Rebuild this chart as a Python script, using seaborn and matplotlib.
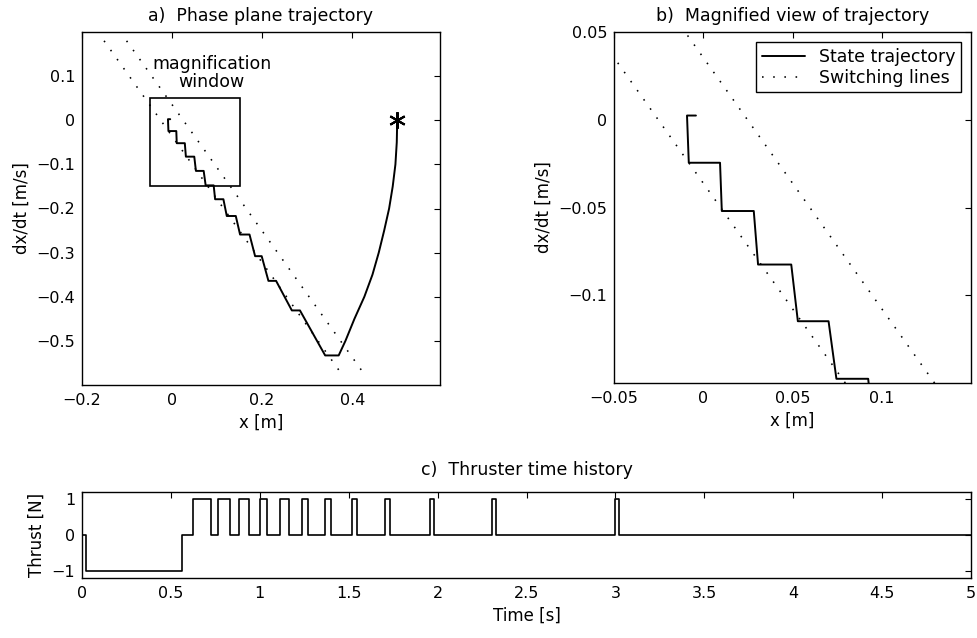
import numpy as np
import pandas as pd
import matplotlib
matplotlib.use('Agg')
import matplotlib.pyplot as plt
from matplotlib.patches import Rectangle
from matplotlib.ticker import FuncFormatter
import seaborn as sns

# state trajectory in the phase plane
traj_x = [-0.0041, -0.0091, -0.0081, 0.0094, 0.0104, 0.0283, 0.0307, 0.0493, 0.0530, 0.0702,
          0.0746, 0.0924, 0.0956, 0.114, 0.1215, 0.1415, 0.151, 0.172, 0.1844, 0.199,
          0.214, 0.231, 0.266, 0.284, 0.34, 0.37, 0.385, 0.405, 0.427, 0.445,
          0.459, 0.471, 0.482, 0.490, 0.496, 0.499, 0.5]
traj_v = [0.0024, 0.0024, -0.0245, -0.0245, -0.052, -0.052, -0.0825, -0.0825, -0.1148, -0.1148,
          -0.1476, -0.1476, -0.179, -0.179, -0.217, -0.217, -0.259, -0.259, -0.308, -0.308,
          -0.364, -0.364, -0.431, -0.431, -0.533, -0.533, -0.50, -0.45, -0.40, -0.35,
          -0.30, -0.25, -0.20, -0.15, -0.10, -0.05, 0.0]

# start point
start_x = [0.5]
start_v = [0.0]

# switching lines (end points)
switch1_x = [-0.151, 0.380]
switch1_v = [0.180, -0.580]
switch2_x = [-0.101, 0.430]
switch2_v = [0.180, -0.580]

# magnification window
window_x = [-0.05, 0.15]
window_v = [-0.15, 0.05]

# thruster history
thrust_t = [0, 0.022, 0.561, 0.622, 0.726, 0.767, 0.832, 0.882, 0.941, 0.999,
            1.040, 1.111, 1.162, 1.238, 1.273, 1.368, 1.402, 1.517, 1.546, 1.704,
            1.730, 1.955, 1.979, 2.306, 2.330, 2.998, 3.022, 5.0]
thrust_u = [0, -1, 0, 1, 0, 1, 0, 1, 0, 1,
            0, 1, 0, 1, 0, 1, 0, 1, 0, 1,
            0, 1, 0, 1, 0, 1, 0, 0]

traj = pd.DataFrame({'x': traj_x, 'v': traj_v})
thrust = pd.DataFrame({'t': thrust_t, 'u': thrust_u})

sns.set_style('white')
plt.rcParams['font.family'] = ['DejaVu Sans']
plt.rcParams['text.color'] = 'black'
plt.rcParams['axes.labelcolor'] = 'black'
plt.rcParams['xtick.color'] = 'black'
plt.rcParams['ytick.color'] = 'black'
plt.rcParams['axes.linewidth'] = 1.0
plt.rcParams['axes.edgecolor'] = 'black'
plt.rcParams['xtick.direction'] = 'in'
plt.rcParams['ytick.direction'] = 'in'
plt.rcParams['xtick.top'] = True
plt.rcParams['ytick.right'] = True
plt.rcParams['xtick.major.size'] = 4
plt.rcParams['ytick.major.size'] = 4
plt.rcParams['xtick.major.pad'] = 6
plt.rcParams['ytick.major.pad'] = 5
plt.rcParams['xtick.labelsize'] = 11.5
plt.rcParams['ytick.labelsize'] = 11.5

fmt = FuncFormatter(lambda v, p: ('%g' % v).replace('-', '\u2212'))
dots = (0, (1, 6))

fig = plt.figure(figsize=(9.77, 6.38), dpi=100)
ax_a = fig.add_axes([82 / 977, 1 - 385 / 638, 358 / 977, 353 / 638])
ax_b = fig.add_axes([614 / 977, 1 - 383 / 638, 357 / 977, 351 / 638])
ax_c = fig.add_axes([82 / 977, 1 - 578 / 638, 889 / 977, 86 / 638])

# a) phase plane
for ax in (ax_a, ax_b):
    sns.lineplot(x=switch1_x, y=switch1_v, ax=ax, color='black', lw=1.15,
                 linestyle=dots, sort=False, estimator=None)
    sns.lineplot(x=switch2_x, y=switch2_v, ax=ax, color='black', lw=1.15,
                 linestyle=dots, sort=False, estimator=None)
    sns.lineplot(data=traj, x='x', y='v', ax=ax, color='black', lw=1.4,
                 sort=False, estimator=None)

ax_a.plot(start_x, start_v, linestyle='none', marker=(6, 2, 0), markersize=12,
          markeredgewidth=1.5, color='black')
ax_a.add_patch(Rectangle((window_x[0], window_v[0]), window_x[1] - window_x[0],
                         window_v[1] - window_v[0], fill=False, edgecolor='black', lw=1.2))
ax_a.text(0.088, 0.107, 'magnification\nwindow', ha='center', va='center', fontsize=12.5,
          linespacing=1.0)
ax_a.set_xlim(-0.2, 0.595)
ax_a.set_ylim(-0.6, 0.2)
ax_a.set_xticks([-0.2, 0, 0.2, 0.4])
ax_a.set_yticks([0.1, 0, -0.1, -0.2, -0.3, -0.4, -0.5])
ax_a.set_title('a)  Phase plane trajectory', fontsize=12.5, pad=8)
ax_a.set_xlabel('x [m]', fontsize=12)
ax_a.set_ylabel('dx/dt [m/s]', fontsize=12)

# b) magnified view
ax_b.set_xlim(window_x)
ax_b.set_ylim(window_v)
ax_b.set_xticks([-0.05, 0, 0.05, 0.1])
ax_b.set_yticks([0.05, 0, -0.05, -0.1])
ax_b.set_title('b)  Magnified view of trajectory', fontsize=12.5, pad=8)
ax_b.set_xlabel('x [m]', fontsize=12)
ax_b.set_ylabel('dx/dt [m/s]', fontsize=12)
lines = ax_b.get_lines()
ax_b.legend([lines[2], lines[0]], ['State trajectory', 'Switching lines'],
            loc='upper right', fontsize=12.5, frameon=True, fancybox=False,
            edgecolor='black', framealpha=1, borderaxespad=0.6, handlelength=2.5,
            borderpad=0.3, labelspacing=0.2, handletextpad=0.8)

# c) thruster time history
sns.lineplot(data=thrust, x='t', y='u', ax=ax_c, color='black', lw=1.2,
             drawstyle='steps-post', sort=False, estimator=None)
ax_c.set_xlim(0, 5)
ax_c.set_ylim(-1.2, 1.2)
ax_c.set_xticks(np.arange(0, 5.01, 0.5))
ax_c.set_yticks([-1, 0, 1])
ax_c.set_title('c)  Thruster time history', fontsize=12.5, pad=12)
ax_c.set_xlabel('Time [s]', fontsize=12)
ax_c.set_ylabel('Thrust [N]', fontsize=12)

for ax in (ax_a, ax_b, ax_c):
    ax.xaxis.set_major_formatter(fmt)
    ax.yaxis.set_major_formatter(fmt)
    for s in ax.spines.values():
        s.set_visible(True)
        s.set_color('black')

plt.savefig('out.png', dpi=100)
